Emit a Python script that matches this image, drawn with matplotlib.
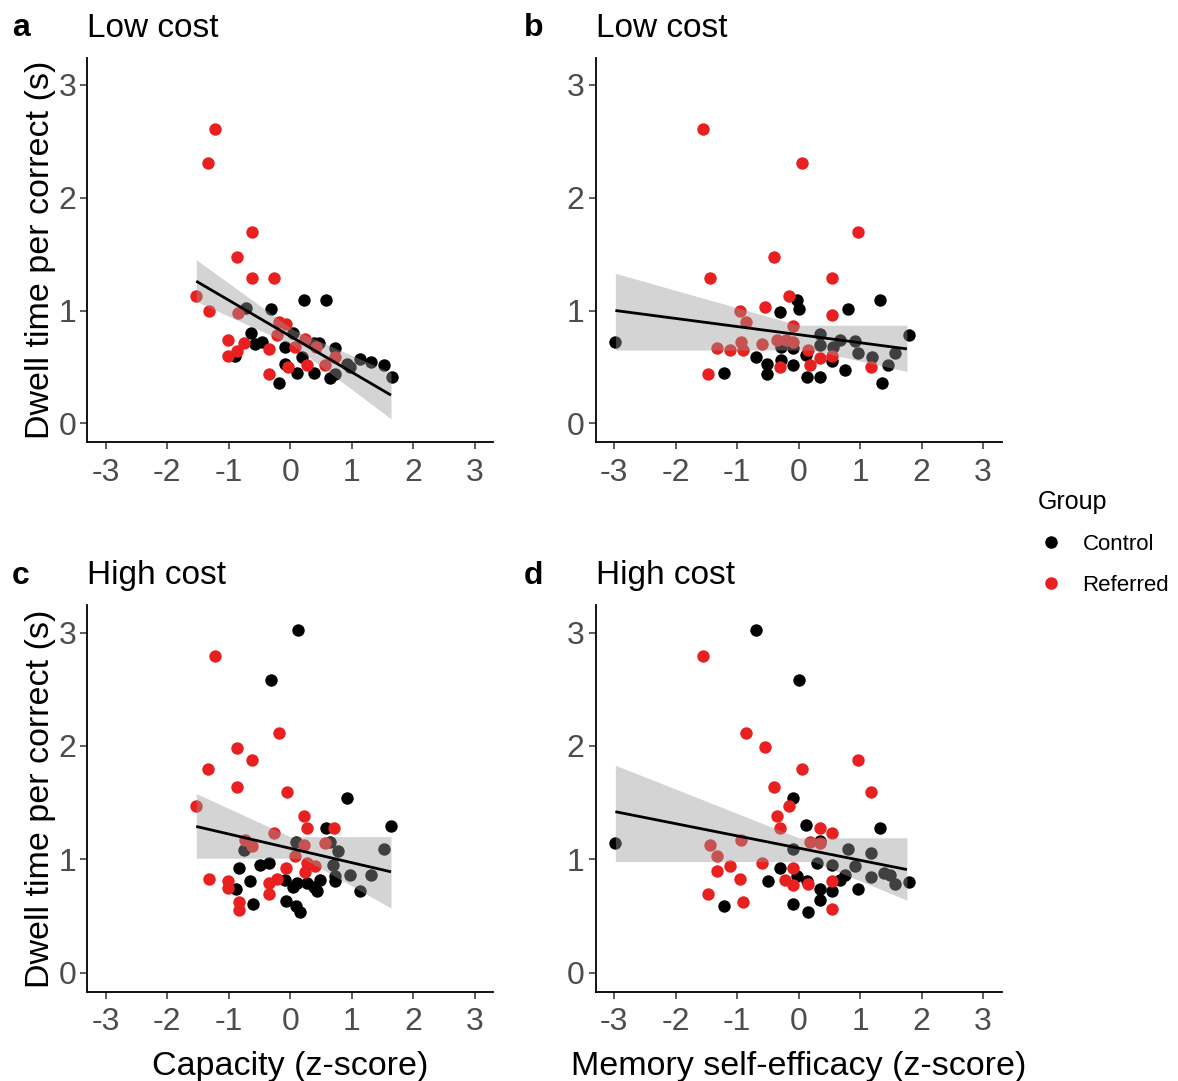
import matplotlib
matplotlib.use("Agg")
import matplotlib.pyplot as plt
from matplotlib.lines import Line2D

plt.rcParams['font.family'] = ['Liberation Sans', 'DejaVu Sans']

# ---------------- data ----------------
# Panel a: Capacity vs dwell time, low cost
a_ctrl_x = [0.23, 0.58, -0.32, -0.72, -0.64, -0.57, -0.46, -0.90, -0.19, -0.08, -0.08, 0.05, 0.11,
            0.19, 0.38, 0.38, 0.47, 0.65, 0.73, 0.73, 0.92, 0.97, 1.14, 1.32, 1.53, 1.65]
a_ctrl_y = [1.09, 1.09, 1.01, 1.02, 0.80, 0.70, 0.72, 0.60, 0.36, 0.68, 0.53, 0.80, 0.45,
            0.59, 0.45, 0.71, 0.71, 0.40, 0.67, 0.44, 0.53, 0.50, 0.57, 0.54, 0.52, 0.41]
a_ref_x = [-1.22, -1.34, -0.62, -0.86, -0.62, -0.26, -1.53, -1.32, -0.85, -1.02, -1.02, -0.76, -0.87,
           -0.34, -0.34, -0.22, -0.18, -0.07, -0.04, 0.08, 0.24, 0.27, 0.42, 0.57, 0.73]
a_ref_y = [2.61, 2.31, 1.70, 1.47, 1.29, 1.29, 1.13, 1.00, 0.98, 0.74, 0.60, 0.71, 0.64,
           0.66, 0.44, 0.78, 0.90, 0.88, 0.50, 0.68, 0.75, 0.52, 0.68, 0.52, 0.59]
a_fit_x = [-1.53, 1.64]
a_fit_y = [1.26, 0.25]
a_band_x = [-1.53, 0.05, 1.64]
a_band_lo = [1.08, 0.69, 0.04]
a_band_hi = [1.45, 0.83, 0.45]

# Panel b: Memory self-efficacy vs dwell time, low cost
b_ctrl_x = [-2.98, -1.21, -0.69, -0.51, -0.51, -0.30, -0.29, -0.29, -0.09, -0.09, -0.02, 0.01, 0.12,
            0.13, 0.34, 0.34, 0.34, 0.54, 0.56, 0.67, 0.75, 0.81, 0.92, 0.97, 1.19, 1.33, 1.36,
            1.45, 1.57, 1.79]
b_ctrl_y = [0.72, 0.45, 0.59, 0.53, 0.44, 0.99, 0.68, 0.56, 0.67, 0.52, 1.09, 1.01, 0.61,
            0.41, 0.41, 0.79, 0.69, 0.55, 0.68, 0.74, 0.47, 1.01, 0.73, 0.62, 0.59, 1.09, 0.36,
            0.52, 0.62, 0.78]
b_ref_x = [-1.56, 0.06, 0.96, -0.40, -1.44, 0.54, -0.15, -0.55, -0.96, -0.85, 0.54, -0.09, -0.93,
           -0.36, -0.20, -0.09, -1.32, -1.12, -0.90, -0.60, -0.30, -1.47, 0.16, 0.18, 0.35, 0.55, 1.18]
b_ref_y = [2.61, 2.31, 1.70, 1.47, 1.29, 1.29, 1.13, 1.03, 1.00, 0.90, 0.96, 0.86, 0.72,
           0.74, 0.74, 0.72, 0.67, 0.65, 0.65, 0.70, 0.50, 0.44, 0.65, 0.52, 0.58, 0.60, 0.50]
b_fit_x = [-2.98, 1.76]
b_fit_y = [1.00, 0.66]
b_band_x = [-2.98, 0.0, 0.2, 1.76]
b_band_lo = [0.65, 0.65, 0.65, 0.46]
b_band_hi = [1.33, 0.87, 0.87, 0.87]

# Panel c: Capacity vs dwell time, high cost
c_ctrl_x = [0.13, -0.32, 0.92, 1.64, 0.58, 0.10, 0.65, -0.75, 0.77, 1.52, -0.49, -0.35, -0.83, 0.70,
            0.97, 1.32, -0.65, -0.88, -0.60, -0.08, 0.05, 0.11, 0.27, 0.38, 0.44, 0.49, 0.73, 0.73,
            1.13, -0.07, 0.10, 0.16]
c_ctrl_y = [3.02, 2.58, 1.54, 1.29, 1.28, 1.15, 1.15, 1.08, 1.07, 1.09, 0.95, 0.97, 0.92, 0.95,
            0.86, 0.86, 0.81, 0.74, 0.61, 0.82, 0.76, 0.79, 0.79, 0.76, 0.72, 0.82, 0.81, 0.85,
            0.72, 0.63, 0.59, 0.54]
c_ref_x = [-1.22, -0.19, -0.86, -0.62, -1.34, -0.86, -0.05, -1.53, 0.22, 0.28, 0.71, -0.26, -0.74,
           -0.62, 0.22, 0.57, 0.08, 0.28, 0.40, -0.07, 0.24, -0.22, -0.35, -1.32, -1.02, -1.01,
           -0.34, -0.83, -0.83]
c_ref_y = [2.79, 2.11, 1.98, 1.88, 1.80, 1.64, 1.59, 1.47, 1.38, 1.28, 1.28, 1.23, 1.17,
           1.12, 1.13, 1.14, 1.03, 0.97, 0.94, 0.92, 0.89, 0.83, 0.79, 0.83, 0.81, 0.75,
           0.69, 0.62, 0.55]
c_fit_x = [-1.53, 1.64]
c_fit_y = [1.29, 0.89]
c_band_x = [-1.53, 0.0, 0.2, 1.64]
c_band_lo = [1.01, 1.01, 1.01, 0.57]
c_band_hi = [1.58, 1.20, 1.20, 1.20]

# Panel d: Memory self-efficacy vs dwell time, high cost
d_ctrl_x = [-0.69, 0.00, -0.09, 0.12, 1.32, 0.34, -0.10, 0.81, 1.17, -2.98, 0.30, 0.54, 0.91, -0.30,
            0.76, 1.38, 1.49, 1.17, -0.50, -0.03, 0.13, 0.34, 0.54, 0.67, 0.97, 1.57, 1.79, -1.21,
            -0.10, 0.34, 0.16]
d_ctrl_y = [3.02, 2.58, 1.54, 1.30, 1.28, 1.16, 1.09, 1.09, 1.06, 1.14, 0.97, 0.95, 0.94, 0.92,
            0.86, 0.88, 0.86, 0.84, 0.81, 0.85, 0.81, 0.74, 0.72, 0.82, 0.74, 0.78, 0.80, 0.59,
            0.61, 0.64, 0.54]
d_ref_x = [-1.56, -0.85, -0.55, 0.96, 0.06, -0.40, 1.18, -0.15, -0.36, -0.30, 0.34, 0.54, -0.94,
           -1.44, 0.18, 0.34, -1.32, -0.60, -1.12, -1.32, -0.09, -0.96, -0.23, -0.09, 0.16, 0.54,
           -1.48, -0.91, 0.54]
d_ref_y = [2.79, 2.11, 1.99, 1.88, 1.80, 1.64, 1.59, 1.47, 1.38, 1.28, 1.28, 1.23, 1.17,
           1.13, 1.15, 1.14, 1.03, 0.97, 0.94, 0.90, 0.92, 0.83, 0.82, 0.77, 0.78, 0.81,
           0.69, 0.62, 0.56]
d_fit_x = [-2.98, 1.76]
d_fit_y = [1.42, 0.91]
d_band_x = [-2.98, 0.0, 0.24, 1.76]
d_band_lo = [0.98, 0.98, 0.98, 0.64]
d_band_hi = [1.83, 1.19, 1.19, 1.19]

x_ticks = [-3, -2, -1, 0, 1, 2, 3]
y_ticks = [0, 1, 2, 3]
group_labels = ["Control", "Referred"]
panel_letters = ["a", "b", "c", "d"]
panel_titles = ["Low cost", "Low cost", "High cost", "High cost"]
x_label_left = "Capacity (z-score)"
x_label_right = "Memory self-efficacy (z-score)"
y_label = "Dwell time per correct (s)"

# ---------------- figure ----------------
W, H = 1178, 1081
fig = plt.figure(figsize=(W / 100, H / 100), dpi=100)

CTRL = "black"
REF = "#E8201F"
TICKC = "#4D4D4D"


def px_axes(x0, y0, x1, y1):
    return fig.add_axes([x0 / W, 1 - y1 / H, (x1 - x0) / W, (y1 - y0) / H])


panels = [
    (px_axes(87.5, 57.8, 493, 442.3), a_ctrl_x, a_ctrl_y, a_ref_x, a_ref_y, a_fit_x, a_fit_y,
     a_band_x, a_band_lo, a_band_hi),
    (px_axes(595.7, 57.8, 1001.6, 442.3), b_ctrl_x, b_ctrl_y, b_ref_x, b_ref_y, b_fit_x, b_fit_y,
     b_band_x, b_band_lo, b_band_hi),
    (px_axes(87.5, 605.3, 493, 991.8), c_ctrl_x, c_ctrl_y, c_ref_x, c_ref_y, c_fit_x, c_fit_y,
     c_band_x, c_band_lo, c_band_hi),
    (px_axes(595.7, 605.3, 1001.6, 991.8), d_ctrl_x, d_ctrl_y, d_ref_x, d_ref_y, d_fit_x, d_fit_y,
     d_band_x, d_band_lo, d_band_hi),
]

for i, (ax, cx, cy, rx, ry, fx, fy, bx, blo, bhi) in enumerate(panels):
    ax.scatter(cx, cy, s=80, color=CTRL, linewidths=0, zorder=2)
    ax.scatter(rx, ry, s=80, color=REF, linewidths=0, zorder=2)
    ax.fill_between(bx, blo, bhi, color="#999999", alpha=0.42, linewidth=0, zorder=3)
    ax.plot(fx, fy, color="black", lw=2.0, zorder=4, solid_capstyle="butt")
    ax.set_xlim(-3.3, 3.3)
    ax.set_ylim(-0.168, 3.24)
    ax.set_xticks(x_ticks)
    ax.set_xticklabels([str(t) for t in x_ticks])
    ax.set_yticks(y_ticks)
    ax.set_yticklabels([str(t) for t in y_ticks])
    for s in ["top", "right"]:
        ax.spines[s].set_visible(False)
    for s in ["left", "bottom"]:
        ax.spines[s].set_linewidth(1.3)
        ax.spines[s].set_color("black")
    ax.tick_params(axis="both", labelsize=23, colors="#333333", labelcolor=TICKC,
                   length=5, width=1.1, pad=3)
    ax.tick_params(axis="x", pad=6)
    ax.set_title(panel_titles[i], loc="left", fontsize=24, pad=15, color="black")
    if i in (0, 2):
        ax.set_ylabel(y_label, fontsize=24.5, labelpad=2, color="black")
    if i == 2:
        ax.set_xlabel(x_label_left, fontsize=24.5, labelpad=10, color="black")
    if i == 3:
        ax.set_xlabel(x_label_right, fontsize=24.5, labelpad=10, color="black")

# panel letters
letter_pos = [(12, 28), (524, 28), (12, 576), (524, 576)]
for (lx, ly), letter in zip(letter_pos, panel_letters):
    fig.text(lx / W, 1 - ly / H, letter, fontsize=23, fontweight="bold", ha="left", va="center")

# legend
handles = [Line2D([], [], marker="o", linestyle="", color=CTRL, markersize=8),
           Line2D([], [], marker="o", linestyle="", color=REF, markersize=8)]
leg = fig.legend(handles, group_labels, title="Group", loc="upper left",
                 bbox_to_anchor=(1018 / W, 1 - 470 / H), frameon=False, fontsize=16,
                 title_fontsize=18, handletextpad=0.8, labelspacing=0.9, handlelength=1.2)
leg._legend_box.align = "left"

fig.savefig("out.png", dpi=100)
